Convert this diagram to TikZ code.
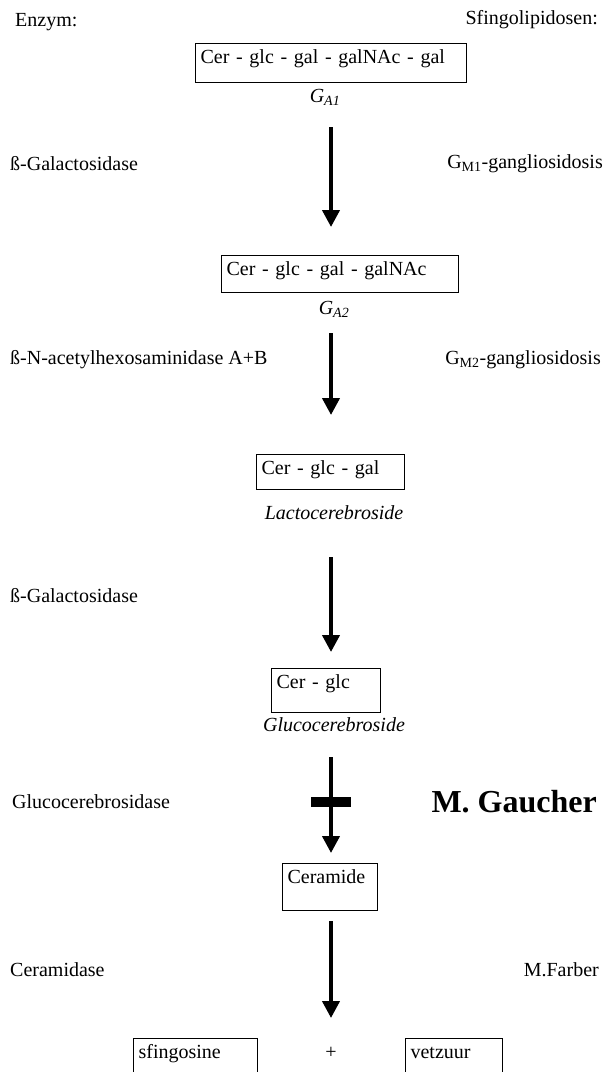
\documentclass[tikz,border=0pt]{standalone}
\usepackage{fontspec}
\setmainfont{Liberation Serif}
\usetikzlibrary{arrows.meta}
\tikzset{
  molbox/.style={draw, line width=1.2pt, anchor=north west, inner xsep=5pt, inner ysep=0pt, text height=20pt, align=left},
  enzyme/.style={anchor=west, inner sep=0pt},
  disease/.style={anchor=east, inner sep=0pt},
  glycolipid/.style={inner sep=0pt, text height=14pt, text depth=5pt, font=\fontsize{20}{24}\selectfont\itshape},
  reaction/.style={line width=4pt, -{Triangle[width=17pt,length=17pt]}},
}
\begin{document}
\begin{tikzpicture}[x=1pt, y=-1pt, every node/.style={font=\fontsize{20}{24}\selectfont}]
  \useasboundingbox (0,0) rectangle (604,1072);
  \clip (0,0) rectangle (604,1072);
  \coordinate (axis) at (331,0);

  % headings
  \node[enzyme] (enzhead) at (15,22) {Enzym:};
  \node[disease] (dishead) at (598,20) {Sfingolipidosen:};

  % substrates
  \node[molbox, text width=261pt, text depth=19pt] (ga1box) at (195,43) {Cer - glc - gal - galNAc - gal};
  \node[glycolipid] (ga1) at (325,98) {G\textsubscript{A1}};
  \node[molbox, text width=227pt, text depth=17pt] (ga2box) at (221,255) {Cer - glc - gal - galNAc};
  \node[glycolipid] (ga2) at (334,310) {G\textsubscript{A2}};
  \node[molbox, text width=138pt, text depth=15pt] (lactobox) at (256,454) {Cer - glc - gal};
  \node[glycolipid] (lacto) at (334,515) {Lactocerebroside};
  \node[molbox, text width=99pt, text depth=24pt] (glucobox) at (271,668) {Cer - glc};
  \node[glycolipid] (gluco) at (334,727) {Glucocerebroside};
  \node[molbox, text width=85pt, text depth=27pt] (ceramide) at (282,863) {Ceramide};
  \node[molbox, text width=114pt, text depth=30pt] (sfingosine) at (133,1038) {sfingosine};
  \node (plus) at (331,1053) {+};
  \node[molbox, text width=87pt, text depth=30pt] (vetzuur) at (405,1038) {vetzuur};

  % enzymes and diseases
  \node[enzyme] (galase1) at (10,164) {ß-Galactosidase};
  \node[disease] (gm1) at (603,164) {G\textsubscript{M1}-gangliosidosis};
  \node[enzyme] (hexase) at (10,360) {ß-N-acetylhexosaminidase A+B};
  \node[disease] (gm2) at (601,360) {G\textsubscript{M2}-gangliosidosis};
  \node[enzyme] (galase2) at (10,596) {ß-Galactosidase};
  \node[enzyme] (glucase) at (12,802) {Glucocerebrosidase};
  \node[disease, font=\fontsize{32}{38}\selectfont\bfseries] (gaucher) at (597,802) {M. Gaucher};
  \node[enzyme] (ceramidase) at (10,970) {Ceramidase};
  \node[disease] (farber) at (599,970) {M.Farber};

  % reactions
  \draw[reaction, shorten <=19.5pt, shorten >=28pt] (ga1.south -| axis) -- (ga2box.north -| axis);
  \draw[reaction, shorten <=13.5pt, shorten >=39pt] (ga2.south -| axis) -- (lactobox.north -| axis);
  \draw[reaction, shorten <=32.5pt, shorten >=16pt] (lacto.south -| axis) -- (glucobox.north -| axis);
  \draw[reaction, shorten <=20.5pt, shorten >=10pt] (gluco.south -| axis) -- (ceramide.north -| axis);
  \node[fill, minimum width=40pt, minimum height=10pt, inner sep=0pt] (block) at (331,802) {};
  \draw[reaction, shorten <=10pt, shorten >=20pt] (ceramide.south -| axis) -- (sfingosine.north -| axis);
\end{tikzpicture}
\end{document}
